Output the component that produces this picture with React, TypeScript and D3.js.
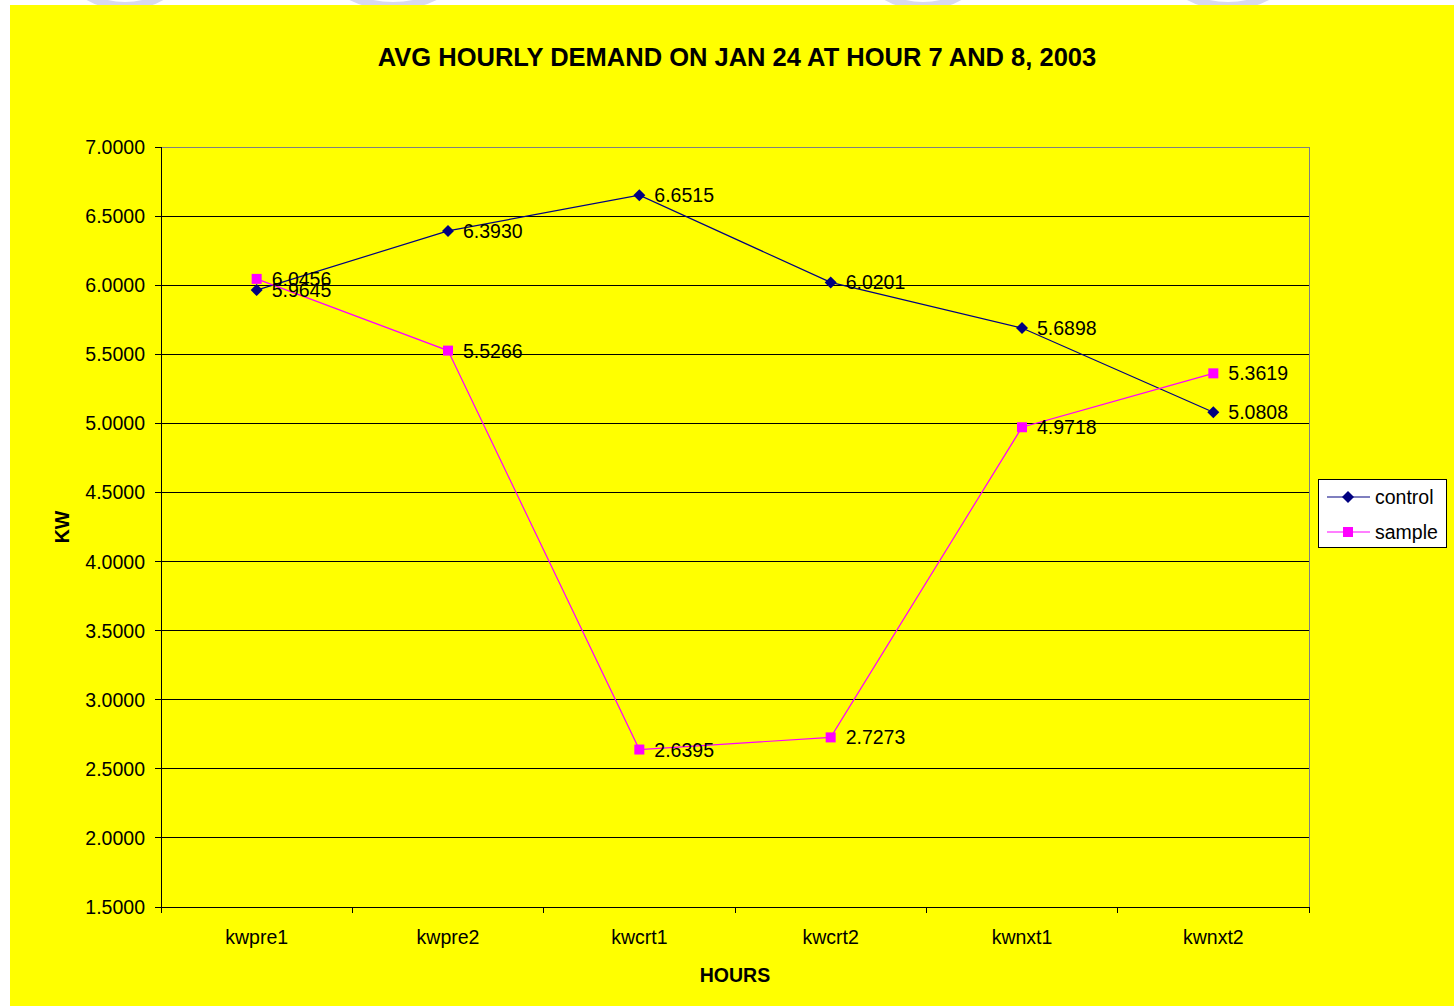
import * as d3 from "d3";
import React from "react";

const categories = ["kwpre1", "kwpre2", "kwcrt1", "kwcrt2", "kwnxt1", "kwnxt2"];
const controlValues = [5.9645, 6.393, 6.6515, 6.0201, 5.6898, 5.0808];
const sampleValues = [6.0456, 5.5266, 2.6395, 2.7273, 4.9718, 5.3619];
const yTicks = [1.5, 2.0, 2.5, 3.0, 3.5, 4.0, 4.5, 5.0, 5.5, 6.0, 6.5, 7.0];
const seriesNames = ["control", "sample"];

const W = 1454;
const H = 1006;
const plot = { left: 161, right: 1309, top: 147, bottom: 907 };
const FONT = "Arial, 'Liberation Sans', sans-serif";
const NAVY = "#000080";
const MAGENTA = "#FF00FF";

function Diamond({ x, y, r = 6 }: { x: number; y: number; r?: number }) {
  return <path d={`M${x},${y - r}L${x + r},${y}L${x},${y + r}L${x - r},${y}Z`} fill={NAVY} />;
}

function Square({ x, y, s = 10 }: { x: number; y: number; s?: number }) {
  return <rect x={x - s / 2} y={y - s / 2} width={s} height={s} fill={MAGENTA} />;
}

export default function App() {
  if (typeof document !== "undefined") document.body.style.margin = "0";

  const x = d3.scaleBand().domain(categories).range([plot.left, plot.right]).padding(0);
  const y = d3.scaleLinear().domain([1.5, 7]).range([plot.bottom, plot.top]);
  const cx = (c: string) => (x(c) ?? 0) + x.bandwidth() / 2;

  const line = d3
    .line<number>()
    .x((_, i) => cx(categories[i]))
    .y((d) => y(d));

  const bounds = categories.map((c) => x(c) ?? 0).concat([plot.right]);

  // faint watermark rings peeking in above the yellow frame
  const rings = [
    { cx: 125, cy: -60, rx: 70, ry: 66 },
    { cx: 393, cy: -60, rx: 80, ry: 66 },
    { cx: 923, cy: -60, rx: 70, ry: 66 },
    { cx: 1228, cy: -60, rx: 75, ry: 66 },
  ];

  return (
    <svg width={W} height={H} style={{ display: "block", fontFamily: FONT }}>
      <rect width={W} height={H} fill="#fff" />
      {rings.map((r, i) => (
        <ellipse key={i} cx={r.cx} cy={r.cy} rx={r.rx} ry={r.ry} fill="none" stroke="#d8d8ee" strokeWidth={8} />
      ))}
      <rect x={10} y={5} width={W - 10} height={H - 5} fill="#FFFF00" />

      <text x={737} y={57} textAnchor="middle" dominantBaseline="central" fontWeight="bold" fontSize={25.5}>
        AVG HOURLY DEMAND ON JAN 24 AT HOUR 7 AND 8, 2003
      </text>

      {/* grid */}
      {yTicks.map((t) => (
        <line
          key={t}
          x1={plot.left}
          x2={plot.right}
          y1={y(t)}
          y2={y(t)}
          stroke={t === 7 ? "#808080" : "#000"}
          strokeWidth={1}
          shapeRendering="crispEdges"
        />
      ))}
      <line x1={plot.right} x2={plot.right} y1={plot.top} y2={plot.bottom} stroke="#808080" shapeRendering="crispEdges" />

      {/* y axis */}
      <line x1={plot.left} x2={plot.left} y1={plot.top} y2={plot.bottom} stroke="#000" shapeRendering="crispEdges" />
      {yTicks.map((t) => (
        <g key={t}>
          <line x1={plot.left - 6} x2={plot.left} y1={y(t)} y2={y(t)} stroke="#000" shapeRendering="crispEdges" />
          <text x={145} y={y(t)} textAnchor="end" dominantBaseline="central" fontSize={19.5}>
            {d3.format(".4f")(t)}
          </text>
        </g>
      ))}

      {/* x axis */}
      <line x1={plot.left} x2={plot.right} y1={plot.bottom} y2={plot.bottom} stroke="#000" shapeRendering="crispEdges" />
      {bounds.map((b, i) => (
        <line key={i} x1={b} x2={b} y1={plot.bottom} y2={plot.bottom + 6} stroke="#000" shapeRendering="crispEdges" />
      ))}
      {categories.map((c) => (
        <text key={c} x={cx(c)} y={937} textAnchor="middle" dominantBaseline="central" fontSize={19.5}>
          {c}
        </text>
      ))}

      <text x={735} y={975} textAnchor="middle" dominantBaseline="central" fontWeight="bold" fontSize={19.5}>
        HOURS
      </text>
      <text
        transform="translate(62,527) rotate(-90)"
        textAnchor="middle"
        dominantBaseline="central"
        fontWeight="bold"
        fontSize={19.5}
      >
        KW
      </text>

      {/* series */}
      <path d={line(controlValues) ?? ""} fill="none" stroke={NAVY} strokeWidth={1.2} />
      <path d={line(sampleValues) ?? ""} fill="none" stroke={MAGENTA} strokeWidth={1.2} />
      {controlValues.map((v, i) => (
        <Diamond key={i} x={cx(categories[i])} y={y(v)} />
      ))}
      {sampleValues.map((v, i) => (
        <Square key={i} x={cx(categories[i])} y={y(v)} />
      ))}
      {controlValues.map((v, i) => (
        <text key={i} x={cx(categories[i]) + 15} y={y(v)} dominantBaseline="central" fontSize={19.5}>
          {d3.format(".4f")(v)}
        </text>
      ))}
      {sampleValues.map((v, i) => (
        <text key={i} x={cx(categories[i]) + 15} y={y(v)} dominantBaseline="central" fontSize={19.5}>
          {d3.format(".4f")(v)}
        </text>
      ))}

      {/* legend */}
      <rect x={1318.5} y={479.5} width={128} height={68} fill="#fff" stroke="#000" />
      {seriesNames.map((s, i) => {
        const ly = 497 + i * 35;
        return (
          <g key={s}>
            <line x1={1327} x2={1370} y1={ly} y2={ly} stroke={i === 0 ? NAVY : MAGENTA} strokeWidth={1.2} />
            {i === 0 ? <Diamond x={1348} y={ly} /> : <Square x={1348} y={ly} />}
            <text x={1375} y={ly} dominantBaseline="central" fontSize={19.5}>
              {s}
            </text>
          </g>
        );
      })}
    </svg>
  );
}
